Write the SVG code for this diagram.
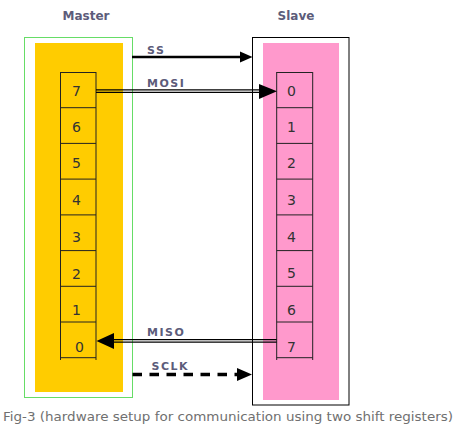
<svg xmlns="http://www.w3.org/2000/svg" width="457" height="432" viewBox="0 0 457 432">
<style>
.title{font-family:"DejaVu Sans",Verdana,sans-serif;font-weight:bold;font-size:12px;fill:#5c5c7a;text-anchor:middle}
.sig{font-family:"DejaVu Sans",Verdana,sans-serif;font-weight:bold;font-size:11px;fill:#5c5c7a;letter-spacing:1.5px}
.num{font-family:"DejaVu Sans",Tahoma,sans-serif;font-size:14px;fill:#333}
.cell{fill:none;stroke:#222;stroke-width:1}
.cap{font-family:"DejaVu Sans",Verdana,sans-serif;font-size:13px;fill:#707070}
</style>
<rect width="457" height="432" fill="#fff"/>
<g id="master">
<text class="title" x="86" y="20">Master</text>
<rect x="24.5" y="37.5" width="108" height="360" fill="none" stroke="#66dd66" stroke-width="1"/>
<rect x="35" y="43" width="88" height="349" fill="#ffcc00"/>
<g id="master-register" class="cell">
<line x1="60.5" y1="72" x2="60.5" y2="360"/>
<line x1="96" y1="72" x2="96" y2="360"/>
<line x1="60.5" y1="72.5" x2="96" y2="72.5"/>
<line x1="60.5" y1="107.7" x2="96" y2="107.7"/>
<line x1="60.5" y1="143.4" x2="96" y2="143.4"/>
<line x1="60.5" y1="179.1" x2="96" y2="179.1"/>
<line x1="60.5" y1="214.9" x2="96" y2="214.9"/>
<line x1="60.5" y1="250.6" x2="96" y2="250.6"/>
<line x1="60.5" y1="286.3" x2="96" y2="286.3"/>
<line x1="60.5" y1="322" x2="96" y2="322"/>
<line x1="60.5" y1="357.7" x2="96" y2="357.7"/>
</g>
<text class="num" x="72" y="95.5">7</text>
<text class="num" x="72" y="131.5">6</text>
<text class="num" x="72" y="167.5">5</text>
<text class="num" x="72" y="204.5">4</text>
<text class="num" x="72" y="241.5">3</text>
<text class="num" x="72" y="278.5">2</text>
<text class="num" x="72" y="315">1</text>
<text class="num" x="75" y="351.5">0</text>
</g>
<g id="slave">
<text class="title" x="296" y="20">Slave</text>
<rect x="252.5" y="37.5" width="96.5" height="367.5" fill="none" stroke="#000" stroke-width="1"/>
<rect x="263" y="43" width="76" height="357" fill="#ff99cc"/>
<g id="slave-register" class="cell">
<line x1="276.7" y1="72" x2="276.7" y2="360"/>
<line x1="312.7" y1="72" x2="312.7" y2="360"/>
<line x1="276.7" y1="72.5" x2="312.7" y2="72.5"/>
<line x1="276.7" y1="107.7" x2="312.7" y2="107.7"/>
<line x1="276.7" y1="143.4" x2="312.7" y2="143.4"/>
<line x1="276.7" y1="179.1" x2="312.7" y2="179.1"/>
<line x1="276.7" y1="214.9" x2="312.7" y2="214.9"/>
<line x1="276.7" y1="250.6" x2="312.7" y2="250.6"/>
<line x1="276.7" y1="286.3" x2="312.7" y2="286.3"/>
<line x1="276.7" y1="322" x2="312.7" y2="322"/>
<line x1="276.7" y1="357.7" x2="312.7" y2="357.7"/>
</g>
<text class="num" x="287" y="95.5">0</text>
<text class="num" x="287" y="131.5">1</text>
<text class="num" x="287" y="167.5">2</text>
<text class="num" x="287" y="204.5">3</text>
<text class="num" x="287" y="241.5">4</text>
<text class="num" x="287" y="277.5">5</text>
<text class="num" x="287" y="314.5">6</text>
<text class="num" x="287" y="351.5">7</text>
</g>
<g id="connectors">
<g id="ss">
<line x1="132" y1="57" x2="241" y2="57" stroke="#000" stroke-width="2.6"/>
<polygon points="240,51.5 252.5,57 240,62.5" fill="#000"/>
<text class="sig" x="147" y="54">SS</text>
</g>
<g id="mosi">
<line x1="96" y1="89.9" x2="260" y2="89.9" stroke="#000" stroke-width="1.2"/>
<line x1="96" y1="92.4" x2="260" y2="92.4" stroke="#000" stroke-width="1.2"/>
<polygon points="259,84 277,91.2 259,99" fill="#000"/>
<text class="sig" x="147" y="87">MOSI</text>
</g>
<g id="miso">
<line x1="113" y1="339.6" x2="276.7" y2="339.6" stroke="#000" stroke-width="1.2"/>
<line x1="113" y1="342.1" x2="276.7" y2="342.1" stroke="#000" stroke-width="1.2"/>
<polygon points="114,333 96.5,340.9 114,349" fill="#000"/>
<text class="sig" x="147" y="336">MISO</text>
</g>
<g id="sclk">
<line x1="132.5" y1="374.5" x2="238" y2="374.5" stroke="#000" stroke-width="3.5" stroke-dasharray="9.5,7.5"/>
<polygon points="237,368 252,374.5 237,381" fill="#000"/>
<text class="sig" x="151.5" y="370">SCLK</text>
</g>
</g>
<text class="cap" x="3" y="421" textLength="450" lengthAdjust="spacingAndGlyphs">Fig-3 (hardware setup for communication using two shift registers)</text>
</svg>
